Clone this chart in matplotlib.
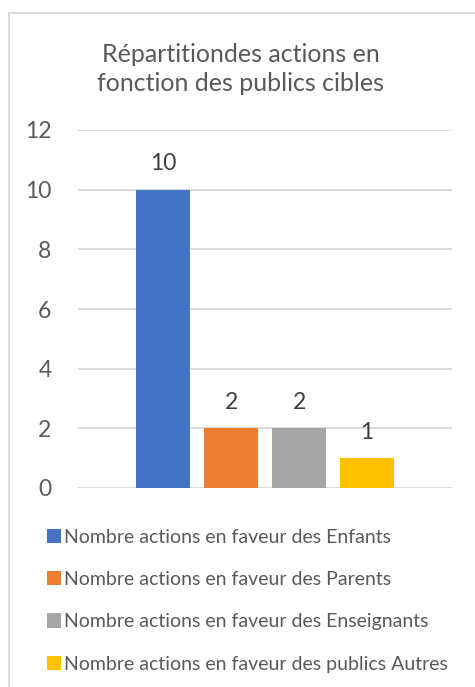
import matplotlib
matplotlib.use("Agg")
import matplotlib.pyplot as plt
from matplotlib.lines import Line2D
from matplotlib.patches import Patch

plt.rcParams['font.family'] = ['Lato', 'DejaVu Sans']

title = "Répartitiondes actions en\nfonction des publics cibles"
series = [
    "Nombre actions en faveur des Enfants",
    "Nombre actions en faveur des Parents",
    "Nombre actions en faveur des Enseignants",
    "Nombre actions en faveur des publics Autres",
]
values = [10, 2, 2, 1]
colors = ['#4472C4', '#ED7D31', '#A5A5A5', '#FFC000']
yticks = [0, 2, 4, 6, 8, 10, 12]

W, H = 475, 687
fig = plt.figure(figsize=(W / 100, H / 100), dpi=100)
text_col = '#595959'
grid_col = '#d9d9d9'

# chart border (top and left edges visible)
fig.add_artist(Line2D([9 / W, 1], [1 - 12.5 / H] * 2, color=grid_col, lw=1.3))
fig.add_artist(Line2D([9 / W] * 2, [0, 1 - 12.5 / H], color=grid_col, lw=1.3))

ax = fig.add_axes([78 / W, 1 - 488 / H, (452 - 78) / W, (488 - 130) / H])
ax.set_xlim(-0.5, 0.5)
ax.set_ylim(0, 12)

step = 68 / 374
width = 54 / 374
n = len(values)
for i, (v, c) in enumerate(zip(values, colors)):
    x = (i - (n - 1) / 2) * step
    ax.bar(x, v, width=width, color=c, zorder=3)
    ax.annotate(str(v), (x, v), xytext=(0, 11), textcoords='offset points',
                ha='center', va='bottom', fontsize=16.5, color='#404040')

ax.set_yticks(yticks)
ax.set_yticklabels([str(t) for t in yticks])
ax.tick_params(axis='y', length=0, pad=19, labelsize=16.5, labelcolor=text_col)
ax.tick_params(axis='x', length=0, labelbottom=False)
ax.grid(axis='y', color=grid_col, lw=1.3, zorder=0)
for s in ax.spines.values():
    s.set_visible(False)

fig.text(0.5 + 3 / W, 1 - 69 / H, title, ha='center', va='center',
         fontsize=18, color=text_col, linespacing=1.35)

handles = [Patch(facecolor=c, edgecolor='none') for c in colors]
fig.legend(handles, series, loc='upper left', bbox_to_anchor=(39 / W, 1 - 521 / H),
           frameon=False, fontsize=14, labelcolor=text_col,
           handlelength=0.75, handleheight=0.75, handletextpad=0.15,
           labelspacing=1.3, borderaxespad=0)

fig.savefig("out.png", dpi=100)
